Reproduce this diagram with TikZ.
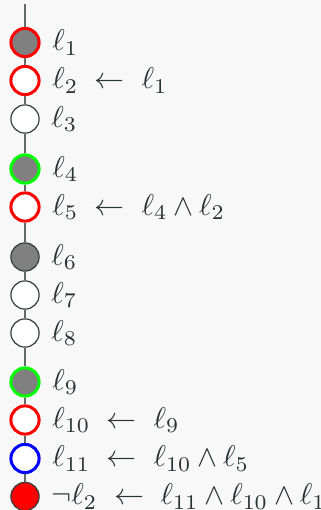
\documentclass[tikz,border=0pt]{standalone}
\usepackage{tikz}
\definecolor{bg}{RGB}{248,248,248}
\definecolor{txt}{RGB}{40,50,50}
\definecolor{edge}{RGB}{55,60,60}
\definecolor{vline}{RGB}{100,105,105}
\definecolor{midgray}{RGB}{128,128,128}
\tikzset{
  lit/.style={circle, draw=edge, line width=0.4pt, fill=white, minimum size=9.4pt, inner sep=0pt},
  redring/.style={lit, draw=red, line width=1pt},
  greenring/.style={lit, draw=green, line width=1pt},
  bluering/.style={lit, draw=blue, line width=1pt},
  grayfill/.style={fill=midgray},
  redfill/.style={fill=red},
  lab/.style={anchor=west, text=txt, inner sep=0pt, text height=6.94pt, text depth=1.5pt, xshift=3.7pt,
    execute at begin node={\medmuskip=3.5mu}},
  trail/.style={draw=vline, line width=0.5pt}
}
\begin{document}
\begin{tikzpicture}[x=0.3333pt,y=-0.3333pt]
\fill[bg] (0,0) rectangle (321,510);
\useasboundingbox (0,0) rectangle (321,510);
\coordinate (top) at (25,4);
\node[redring, grayfill] (c1) at (25,42.5) {};
\node[redring] (c2) at (25,80.5) {};
\node[lit] (c3) at (25,119) {};
\node[greenring, grayfill] (c4) at (25,169) {};
\node[redring] (c5) at (25,207) {};
\node[lit, grayfill] (c6) at (25,257) {};
\node[lit] (c7) at (25,295) {};
\node[lit] (c8) at (25,333) {};
\node[greenring, grayfill] (c9) at (25,382) {};
\node[redring] (c10) at (25,420) {};
\node[bluering] (c11) at (25,458.5) {};
\node[lit, redfill] (c12) at (25,496.5) {};
\draw[trail] (top) -- (c1);
\draw[trail] (c1) -- (c2);
\draw[trail] (c2) -- (c3);
\draw[trail] (c3) -- (c4);
\draw[trail] (c4) -- (c5);
\draw[trail] (c5) -- (c6);
\draw[trail] (c6) -- (c7);
\draw[trail] (c7) -- (c8);
\draw[trail] (c8) -- (c9);
\draw[trail] (c9) -- (c10);
\draw[trail] (c10) -- (c11);
\draw[trail] (c11) -- (c12);
\node[lab] (t1) at (c1.east) {$\ell_1$};
\node[lab] (t2) at (c2.east) {$\ell_2 \;\leftarrow\; \ell_1$};
\node[lab] (t3) at (c3.east) {$\ell_3$};
\node[lab] (t4) at (c4.east) {$\ell_4$};
\node[lab] (t5) at (c5.east) {$\ell_5 \;\leftarrow\; \ell_4\wedge\ell_2$};
\node[lab] (t6) at (c6.east) {$\ell_6$};
\node[lab] (t7) at (c7.east) {$\ell_7$};
\node[lab] (t8) at (c8.east) {$\ell_8$};
\node[lab] (t9) at (c9.east) {$\ell_9$};
\node[lab] (t10) at (c10.east) {$\ell_{10} \;\leftarrow\; \ell_9$};
\node[lab] (t11) at (c11.east) {$\ell_{11} \;\leftarrow\; \ell_{10}\wedge\ell_5$};
\node[lab] (t12) at (c12.east) {$\neg\ell_2 \;\leftarrow\; \ell_{11}\wedge\ell_{10}\wedge\ell_1$};
\end{tikzpicture}
\end{document}
